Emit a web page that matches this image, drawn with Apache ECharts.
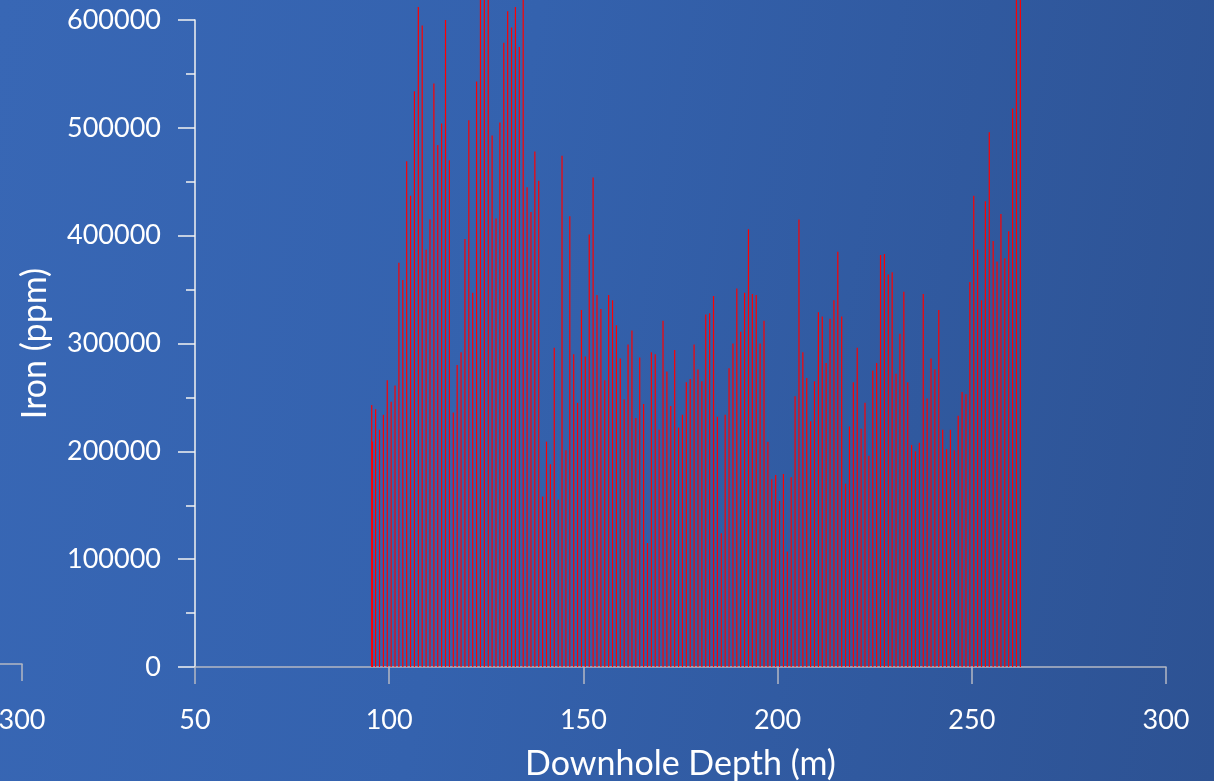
<!DOCTYPE html>
<html>
<head>
<meta charset="utf-8">
<script src="https://cdn.jsdelivr.net/npm/echarts@6/dist/echarts.min.js"></script>
<style>
  html, body { margin: 0; padding: 0; }
  #chart { width: 1214px; height: 781px; background: linear-gradient(100deg, #3867b5 0%, #3462ae 40%, #2d5293 100%); }
</style>
</head>
<body>
<div id="chart"></div>
<script>
// Downhole depth (m) of each sample
const depths = [95.5, 95.7, 96.5, 97.5, 98.5, 99.5, 100.5, 101.5, 102.5, 103.5, 104.5,
  105.5, 106.5, 107.5, 108.5, 109.5, 110.5, 111.5, 112.5, 113.5, 114.5,
  115.5, 116.5, 117.5, 118.5, 119.5, 120.5, 121.5, 122.5, 123.5, 124.5,
  125.5, 126.5, 127.5, 128.5, 129.5, 130.5, 131.5, 132.5, 133.5, 134.5,
  135.5, 136.5, 137.5, 138.5, 139.5, 140.5, 141.5, 142.5, 143.5, 144.5,
  145.5, 146.5, 147.5, 148.5, 149.5, 150.5, 151.5, 152.5, 153.5, 154.5,
  155.5, 156.5, 157.5, 158.5, 159.5, 160.5, 161.5, 162.5, 163.5, 164.5,
  165.5, 166.5, 167.5, 168.5, 169.5, 170.5, 171.5, 172.5, 173.5, 174.5,
  175.5, 176.5, 177.5, 178.5, 179.5, 180.5, 181.5, 182.5, 183.5, 184.5,
  185.5, 186.5, 187.5, 188.5, 189.5, 190.5, 191.5, 192.5, 193.5, 194.5,
  195.5, 196.5, 197.5, 198.5, 199.5, 200.5, 201.5, 202.5, 203.5, 204.5,
  205.5, 206.5, 207.5, 208.5, 209.5, 210.5, 211.5, 212.5, 213.5, 214.5,
  215.5, 216.5, 217.5, 218.5, 219.5, 220.5, 221.5, 222.5, 223.5, 224.5,
  225.5, 226.5, 227.5, 228.5, 229.5, 230.5, 231.5, 232.5, 233.5, 234.5,
  235.5, 236.5, 237.5, 238.5, 239.5, 240.5, 241.5, 242.5, 243.5, 244.5,
  245.5, 246.5, 247.5, 248.5, 249.5, 250.5, 251.5, 252.5, 253.5, 254.5,
  255.5, 256.5, 257.5, 258.5, 259.5, 260.5, 261.5, 262.5];

// Iron (ppm) at each depth
const iron = [243000, 209000, 239000, 220000, 234000, 266000, 246000, 261000, 375000, 359000, 469000,
  437000, 534000, 612000, 595000, 387000, 415000, 541000, 484000, 504000, 600000,
  470000, 236000, 280000, 292000, 397000, 507000, 347000, 543000, 660000, 690000,
  650000, 493000, 416000, 505000, 579000, 608000, 593000, 612000, 575000, 640000,
  445000, 422000, 478000, 451000, 158000, 209000, 188000, 296000, 155000, 474000,
  201000, 418000, 290000, 245000, 331000, 288000, 401000, 454000, 345000, 332000,
  266000, 345000, 340000, 317000, 286000, 248000, 299000, 312000, 231000, 287000,
  244000, 115000, 292000, 290000, 220000, 321000, 274000, 242000, 294000, 222000,
  234000, 264000, 267000, 299000, 276000, 265000, 327000, 328000, 344000, 232000,
  124000, 234000, 277000, 300000, 351000, 311000, 347000, 406000, 346000, 345000,
  300000, 321000, 209000, 174000, 178000, 154000, 179000, 107000, 176000, 251000,
  415000, 292000, 268000, 228000, 265000, 329000, 325000, 282000, 323000, 340000,
  385000, 325000, 170000, 223000, 264000, 296000, 221000, 245000, 196000, 275000,
  282000, 382000, 383000, 364000, 366000, 272000, 309000, 348000, 264000, 206000,
  200000, 208000, 346000, 249000, 286000, 276000, 331000, 220000, 202000, 220000,
  201000, 233000, 255000, 253000, 357000, 437000, 387000, 340000, 432000, 496000,
  395000, 376000, 420000, 379000, 404000, 518000, 680000, 660000];

const xTicks = { min: 50, max: 300, interval: 50 };
const yTicks = { min: 0, max: 600000, interval: 100000 };

const chart = echarts.init(document.getElementById('chart'), null, { renderer: 'canvas' });
const FONT = 'Lato';
const seriesData = depths.map((d, i) => [d, iron[i]]);

chart.setOption({
  backgroundColor: 'transparent',
  animation: false,
  textStyle: { fontFamily: FONT },
  grid: [
    { left: 195, right: 48, top: 20, bottom: 114, containLabel: false, outerBoundsMode: 'none' },
    { left: -949, width: 971, top: 20, bottom: 117, containLabel: false, outerBoundsMode: 'none' }
  ],
  xAxis: [
    {
      type: 'value', gridIndex: 0,
      min: xTicks.min, max: xTicks.max, interval: xTicks.interval,
      name: 'Downhole Depth (m)', nameLocation: 'middle', nameGap: 80,
      nameTextStyle: { color: '#ffffff', fontSize: 34, fontFamily: FONT },
      axisLine: { show: true, onZero: false, lineStyle: { color: '#b4b8c4', width: 1.5 } },
      axisTick: { show: true, length: 17, lineStyle: { color: '#b4b8c4', width: 1.5 } },
      axisLabel: { color: '#ffffff', fontSize: 27, fontFamily: FONT, margin: 40, formatter: v => String(v) },
      splitLine: { show: false }
    },
    {
      type: 'value', gridIndex: 1,
      min: xTicks.min, max: xTicks.max, interval: xTicks.interval,
      axisLine: { show: true, onZero: false, lineStyle: { color: '#b4b8c4', width: 1.5 } },
      axisTick: { show: true, length: 17, lineStyle: { color: '#b4b8c4', width: 1.5 } },
      axisLabel: { color: '#ffffff', fontSize: 27, fontFamily: FONT, margin: 43, formatter: v => String(v) },
      splitLine: { show: false }
    }
  ],
  yAxis: [
    {
      type: 'value', gridIndex: 0,
      min: yTicks.min, max: yTicks.max, interval: yTicks.interval,
      name: 'Iron (ppm)', nameLocation: 'middle', nameGap: 143,
      nameTextStyle: { color: '#ffffff', fontSize: 34, fontFamily: FONT },
      axisLine: { show: true, lineStyle: { color: '#f2f2f2', width: 1.5 } },
      axisTick: { show: true, length: 17, lineStyle: { color: '#f2f2f2', width: 1.5 } },
      minorTick: { show: true, splitNumber: 2, length: 9, lineStyle: { color: '#f2f2f2', width: 1.5 } },
      axisLabel: { color: '#ffffff', fontSize: 27, fontFamily: FONT, margin: 34, formatter: v => String(v) },
      splitLine: { show: false }
    },
    {
      type: 'value', gridIndex: 1, min: 0, max: 600000, show: false
    }
  ],
  series: [
    {
      type: 'bar',
      xAxisIndex: 0, yAxisIndex: 0,
      data: seriesData,
      barWidth: 1.2,
      clip: false,
      itemStyle: { color: '#ff0000' },
      silent: true
    }
  ]
});
</script>
</body>
</html>
